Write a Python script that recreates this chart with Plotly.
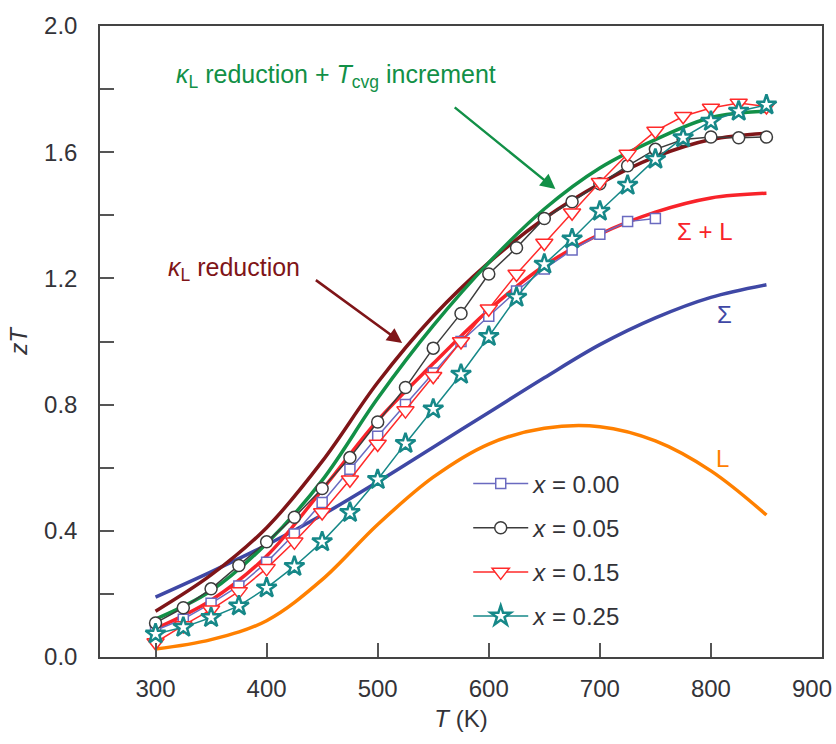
import plotly.graph_objects as go

# ---------------- data ----------------
T_model = [300, 350, 400, 450, 500, 550, 600, 650, 700, 750, 800, 850]
zt_kl_reduction = [0.145, 0.26, 0.41, 0.62, 0.87, 1.08, 1.25, 1.39, 1.50, 1.585, 1.64, 1.66]
zt_kl_tcvg = [0.12, 0.21, 0.36, 0.56, 0.82, 1.05, 1.25, 1.42, 1.55, 1.64, 1.71, 1.73]
zt_sigma_L = [0.09, 0.18, 0.32, 0.53, 0.75, 0.93, 1.10, 1.24, 1.34, 1.41, 1.455, 1.47]
zt_sigma = [0.19, 0.27, 0.355, 0.45, 0.555, 0.665, 0.775, 0.885, 0.99, 1.075, 1.14, 1.18]
zt_L = [0.025, 0.055, 0.115, 0.245, 0.42, 0.57, 0.675, 0.725, 0.73, 0.685, 0.59, 0.45]

T_x000 = [300, 325, 350, 375, 400, 425, 450, 475, 500, 525, 550, 575, 600, 625, 650, 675, 700, 725, 750]
zt_x000 = [0.085, 0.12, 0.17, 0.225, 0.30, 0.39, 0.49, 0.595, 0.70, 0.80, 0.90, 1.00, 1.08, 1.16, 1.23, 1.29, 1.34, 1.38, 1.39]

T_data = [300, 325, 350, 375, 400, 425, 450, 475, 500, 525, 550, 575, 600, 625, 650, 675, 700, 725, 750, 775, 800, 825, 850]
zt_x005 = [0.108, 0.156, 0.216, 0.29, 0.365, 0.443, 0.534, 0.632, 0.745, 0.854, 0.979, 1.089, 1.214, 1.297, 1.39, 1.443, 1.50, 1.557, 1.609, 1.64, 1.648, 1.646, 1.648]
zt_x015 = [0.046, 0.10, 0.15, 0.208, 0.281, 0.365, 0.458, 0.562, 0.675, 0.781, 0.89, 1.0, 1.104, 1.214, 1.312, 1.408, 1.505, 1.594, 1.667, 1.714, 1.74, 1.756, 1.745]
zt_x025 = [0.073, 0.094, 0.125, 0.162, 0.219, 0.287, 0.365, 0.458, 0.5625, 0.677, 0.786, 0.896, 1.016, 1.14, 1.245, 1.325, 1.413, 1.495, 1.578, 1.646, 1.698, 1.73, 1.75]

x_ticks = [300, 400, 500, 600, 700, 800]
x_last_label = 900
y_ticks = [0.0, 0.4, 0.8, 1.2, 1.6, 2.0]

# ---------------- colours ----------------
C_DARKRED = '#7f1518'
C_GREEN = '#129047'
C_RED = '#f8232a'
C_BLUE = '#3f48a5'
C_ORANGE = '#ff8000'
C_SQ = '#6a6ac0'
C_CIRC = '#3c3c3c'
C_TRI = '#ff2a2a'
C_STAR = '#168888'
TXT = '#333338'

fig = go.Figure()

def model(y, color):
    fig.add_trace(go.Scatter(x=T_model, y=y, mode='lines', showlegend=False,
                             line=dict(color=color, width=3.5, shape='spline', smoothing=1.0),
                             hoverinfo='skip'))

model(zt_L, C_ORANGE)
model(zt_sigma, C_BLUE)
model(zt_sigma_L, C_RED)
model(zt_kl_reduction, C_DARKRED)
model(zt_kl_tcvg, C_GREEN)

def data(x, y, color, symbol, size, lw, name, grp):
    fig.add_trace(go.Scatter(x=x, y=y, mode='lines+markers', name=name, legendgroup=grp,
                             line=dict(color=color, width=1.5),
                             marker=dict(symbol=symbol, size=size, color='white',
                                         line=dict(color=color, width=lw))))

data(T_x000, zt_x000, C_SQ, 'square', 10, 1.5, '<i>x</i> = 0.00', 'a')
data(T_data, zt_x005, C_CIRC, 'circle', 12, 1.5, '<i>x</i> = 0.05', 'b')
data(T_data, zt_x015, C_TRI, 'triangle-down', 15, 1.5, '<i>x</i> = 0.15', 'c')
data(T_data, zt_x025, C_STAR, 'star', 15, 2.5, '<i>x</i> = 0.25', 'd')

ann = []
# arrows
ann.append(dict(x=660, y=1.483, ax=568, ay=1.746, xref='x', yref='y', axref='x', ayref='y',
                text='', showarrow=True, arrowhead=2, arrowsize=1.2, arrowwidth=2.5,
                arrowcolor=C_GREEN))
ann.append(dict(x=522, y=0.995, ax=443, ay=1.198, xref='x', yref='y', axref='x', ayref='y',
                text='', showarrow=True, arrowhead=2, arrowsize=1.2, arrowwidth=2.5,
                arrowcolor=C_DARKRED))
# labels
ann.append(dict(x=317, y=1.84, xref='x', yref='y', xanchor='left', yanchor='middle',
                text='<i>κ</i><sub>L</sub> reduction + <i>T</i><sub>cvg</sub> increment',
                showarrow=False, font=dict(size=25, color=C_GREEN)))
ann.append(dict(x=309, y=1.23, xref='x', yref='y', xanchor='left', yanchor='middle',
                text='<i>κ</i><sub>L</sub> reduction',
                showarrow=False, font=dict(size=25, color=C_DARKRED)))
ann.append(dict(x=795, y=1.35, xref='x', yref='y', text='Σ + L', showarrow=False,
                font=dict(size=24, color=C_RED)))
ann.append(dict(x=812, y=1.085, xref='x', yref='y', text='Σ', showarrow=False,
                font=dict(size=24, color=C_BLUE)))
ann.append(dict(x=810, y=0.628, xref='x', yref='y', text='L', showarrow=False,
                font=dict(size=24, color=C_ORANGE)))
ann.append(dict(x=x_last_label, y=0, xref='x', yref='y', text=str(x_last_label), showarrow=False,
                yanchor='top', xshift=-10, yshift=-16, font=dict(size=24, color=TXT)))

fig.update_layout(
    width=836, height=744,
    margin=dict(l=100, r=14, t=17, b=87),
    plot_bgcolor='white', paper_bgcolor='white',
    font=dict(family='Liberation Sans, Arial, sans-serif', size=24, color=TXT),
    annotations=ann,
    legend=dict(x=0.51, y=0.31, xanchor='left', yanchor='top', bgcolor='rgba(0,0,0,0)',
                font=dict(size=24, color=TXT), tracegroupgap=10, itemwidth=55),
    xaxis=dict(range=[250, 900], tickmode='array', tickvals=x_ticks,
               ticktext=[str(v) for v in x_ticks],
               ticks='inside', ticklen=14, tickwidth=1.5, tickcolor='#555',
               showline=True, linecolor='#444', linewidth=1.5, mirror=True,
               showgrid=False, zeroline=False, ticklabelstandoff=9,
               title=dict(text='<i>T</i> (K)', standoff=10, font=dict(size=24))),
    yaxis=dict(range=[0, 2.0], tickmode='array', tickvals=y_ticks,
               ticktext=['%.1f' % v for v in y_ticks],
               ticks='inside', ticklen=14, tickwidth=1.5, tickcolor='#555',
               minor=dict(dtick=0.2, tick0=0, ticks='inside', ticklen=14, tickwidth=1.5, tickcolor='#555'),
               showline=True, linecolor='#444', linewidth=1.5, mirror=True,
               showgrid=False, zeroline=False, ticklabelstandoff=16,
               title=dict(text='<i>zT</i>', standoff=10, font=dict(size=24))),
)

fig.write_html('out.html')
